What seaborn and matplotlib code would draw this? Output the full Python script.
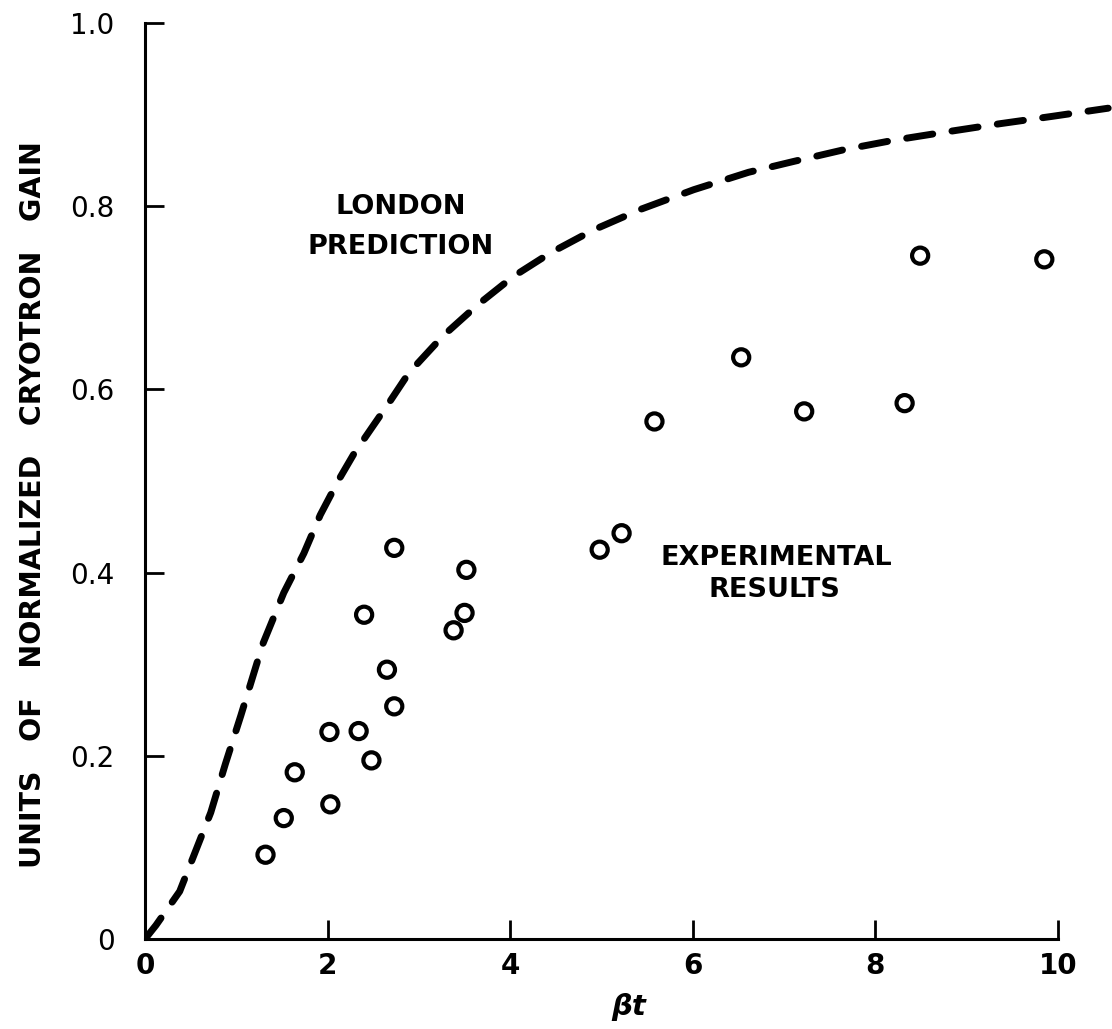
import matplotlib
matplotlib.use("Agg")
import matplotlib.pyplot as plt
import seaborn as sns
import pandas as pd

# London prediction curve
london_bt = [0.0, 0.12, 0.38, 0.55, 0.72, 0.88, 1.05, 1.29, 1.52,
             1.74, 1.92, 2.12, 2.29, 2.49, 2.67, 2.89, 3.26, 3.64, 4.03, 4.44,
             4.91, 5.44, 6.01, 6.61, 7.11, 7.67, 8.20, 8.77, 9.36, 9.93, 10.55]
london_gain = [0.0, 0.015, 0.052, 0.095, 0.138, 0.191, 0.244, 0.322, 0.378,
               0.421, 0.463, 0.501, 0.530, 0.559, 0.585, 0.618, 0.658, 0.692, 0.723, 0.749,
               0.774, 0.797, 0.818, 0.837, 0.849, 0.862, 0.872, 0.881, 0.890, 0.898, 0.907]

# Experimental results
exp_bt = [1.32, 1.52, 1.64, 2.03, 2.02, 2.34, 2.48, 2.73, 2.65, 2.40, 2.73,
          3.38, 3.50, 3.52, 4.98, 5.22, 5.58, 6.53, 7.22, 8.32, 8.49, 9.85]
exp_gain = [0.092, 0.132, 0.182, 0.147, 0.226, 0.227, 0.195, 0.254, 0.294, 0.354, 0.427,
            0.337, 0.356, 0.403, 0.425, 0.443, 0.565, 0.635, 0.576, 0.585, 0.746, 0.742]

x_ticks = [0, 2, 4, 6, 8, 10]
x_tick_labels = ["0", "2", "4", "6", "8", "10"]
y_ticks = [0, 0.2, 0.4, 0.6, 0.8, 1.0]
y_tick_labels = ["0", "0.2", "0.4", "0.6", "0.8", "1.0"]

sns.set_style("ticks")
plt.rcParams["font.family"] = ["DejaVu Sans"]
plt.rcParams.update({"text.color": "black", "axes.labelcolor": "black",
                     "xtick.color": "black", "ytick.color": "black"})

W, H = 1112, 1029
fig = plt.figure(figsize=(W / 100, H / 100), dpi=100)
x0_px, y0_px, ytop_px, px_per_unit = 145, 939, 23, 91.3
ax = fig.add_axes([x0_px / W, (H - y0_px) / H, (W - x0_px) / W, (y0_px - ytop_px) / H])

london = pd.DataFrame({"bt": london_bt, "gain": london_gain})
exp = pd.DataFrame({"bt": exp_bt, "gain": exp_gain})

sns.lineplot(data=london, x="bt", y="gain", ax=ax, color="black", linewidth=5.0,
             linestyle=(0, (3.8, 2.8)), dash_capstyle="round", sort=False,
             estimator=None)
sns.scatterplot(data=exp, x="bt", y="gain", ax=ax, marker="o", s=135,
                facecolor="none", edgecolor="black", linewidth=3.0, zorder=3)

ax.set_xlim(0, (W - x0_px) / px_per_unit)
ax.set_ylim(0, 1.0)

for side in ("top", "right"):
    ax.spines[side].set_visible(False)
for side in ("left", "bottom"):
    ax.spines[side].set_linewidth(2.2)
    ax.spines[side].set_color("black")
ax.spines["bottom"].set_bounds(0, 10)

ax.set_xticks(x_ticks)
ax.set_xticklabels(x_tick_labels, fontsize=20, fontweight="bold")
ax.set_yticks(y_ticks)
ax.set_yticklabels(y_tick_labels, fontsize=20)
ax.tick_params(axis="both", direction="in", length=14, width=2.0, color="black")
ax.tick_params(axis="x", pad=9)
ax.tick_params(axis="y", pad=22)

ax.set_xlabel("βt", fontsize=21, fontweight="bold", style="italic", labelpad=10)
ax.set_ylabel("UNITS   OF   NORMALIZED   CRYOTRON   GAIN", fontsize=20.5,
              fontweight="bold")
ax.yaxis.set_label_coords(-0.101, (y0_px - 505) / (y0_px - ytop_px))

txt = dict(fontsize=19.5, fontweight="bold", ha="center", va="center", color="black")
ax.text(2.80, 0.799, "LONDON", **txt)
ax.text(2.80, 0.755, "PREDICTION", **txt)
ax.text(6.92, 0.416, "EXPERIMENTAL", **txt)
ax.text(6.89, 0.381, "RESULTS", **txt)

fig.savefig("out.png", dpi=100)
